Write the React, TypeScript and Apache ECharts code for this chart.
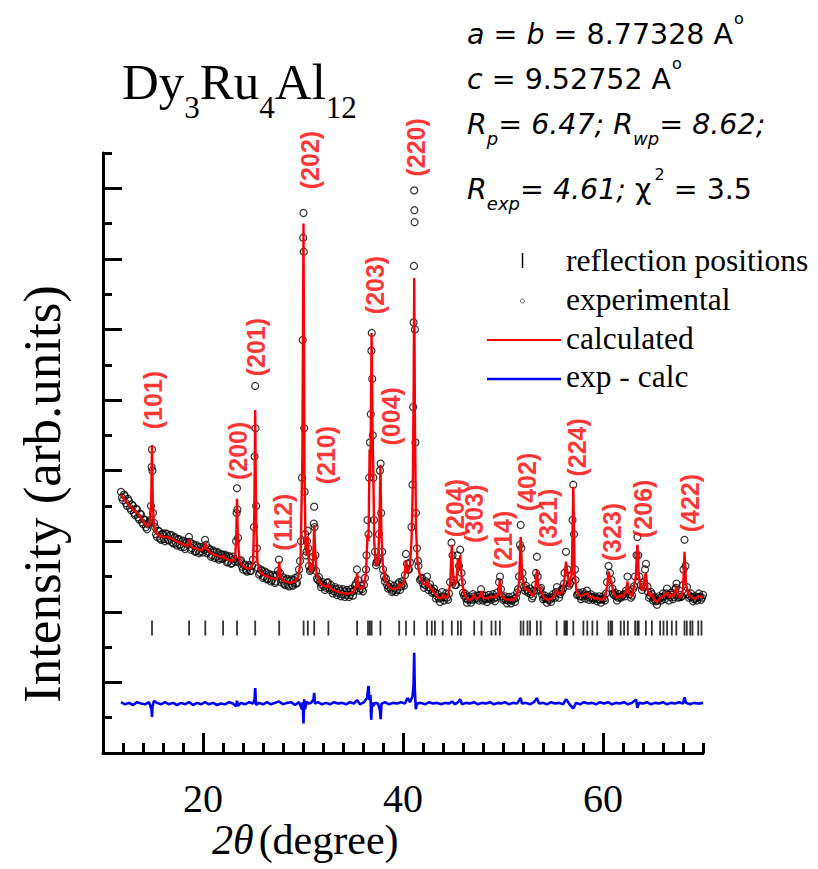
import React, { useEffect, useRef } from "react";
import * as echarts from "echarts";

// ---------- data (2theta in degrees, intensity in arbitrary units) ----------
const calcData: [number, number][] = [
  [11.8, 3.66], [12.2, 3.58], [12.6, 3.51], [13.0, 3.45], [13.4, 3.4], [13.8, 3.33], [14.2, 3.25], [14.5, 3.21],
  [14.7, 3.25], [14.82, 3.55], [14.9, 4.36], [14.98, 3.55], [15.1, 3.2], [15.3, 3.12], [15.6, 3.08], [16.0, 3.06],
  [16.4, 3.06], [16.8, 3.04], [17.2, 3.01], [17.6, 2.98], [18.0, 2.96], [18.4, 2.93], [18.55, 2.98], [18.61, 3.02],
  [18.7, 2.95], [19.0, 2.91], [19.4, 2.89], [19.8, 2.87], [20.1, 2.9], [20.23, 2.98], [20.35, 2.9], [20.7, 2.84],
  [21.1, 2.81], [21.5, 2.79], [21.9, 2.77], [22.01, 2.8], [22.15, 2.76], [22.5, 2.74], [22.9, 2.72], [23.2, 2.75],
  [23.32, 3.05], [23.4, 3.6], [23.48, 3.05], [23.65, 2.72], [23.9, 2.66], [24.3, 2.62], [24.7, 2.61], [25.0, 2.68],
  [25.13, 3.4], [25.22, 4.86], [25.31, 3.3], [25.45, 2.7], [25.7, 2.56], [26.1, 2.52], [26.5, 2.5], [26.9, 2.47],
  [27.3, 2.46], [27.52, 2.52], [27.62, 2.71], [27.72, 2.52], [28.0, 2.44], [28.4, 2.42], [28.8, 2.41], [29.2, 2.43],
  [29.5, 2.48], [29.75, 2.7], [29.94, 4.2], [30.05, 7.5], [30.15, 4.0], [30.25, 2.95], [30.38, 2.8], [30.47, 3.06],
  [30.56, 2.75], [30.75, 2.55], [30.95, 2.6], [31.05, 2.9], [31.12, 3.23], [31.2, 2.9], [31.35, 2.55], [31.6, 2.44],
  [31.9, 2.38], [32.3, 2.35], [32.45, 2.37], [32.54, 2.4], [32.65, 2.35], [33.0, 2.31], [33.4, 2.29], [33.8, 2.27],
  [34.2, 2.26], [34.6, 2.26], [35.0, 2.28], [35.3, 2.36], [35.41, 2.55], [35.52, 2.36], [35.8, 2.32], [36.1, 2.36],
  [36.3, 2.55], [36.45, 3.1], [36.55, 3.0], [36.66, 4.3], [36.74, 3.9], [36.86, 5.95], [36.96, 4.5], [37.03, 4.05],
  [37.12, 3.0], [37.3, 2.65], [37.5, 2.7], [37.64, 3.2], [37.74, 4.08], [37.84, 3.1], [38.0, 2.62], [38.3, 2.42],
  [38.7, 2.34], [39.1, 2.32], [39.5, 2.34], [39.62, 2.4], [39.75, 2.35], [40.1, 2.42], [40.3, 2.73], [40.45, 2.55],
  [40.7, 2.65], [40.85, 3.0], [40.98, 3.8], [41.06, 5.0], [41.12, 6.73], [41.2, 4.6], [41.3, 3.2], [41.45, 2.7],
  [41.7, 2.5], [42.0, 2.4], [42.3, 2.38], [42.4, 2.45], [42.5, 2.36], [42.88, 2.32], [43.19, 2.26], [43.5, 2.2],
  [43.8, 2.19], [43.97, 2.25], [44.15, 2.2], [44.5, 2.22], [44.72, 2.4], [44.88, 2.95], [45.0, 2.55], [45.15, 2.36],
  [45.35, 2.45], [45.49, 2.75], [45.62, 2.6], [45.72, 2.8], [45.85, 2.5], [46.1, 2.25], [46.5, 2.17], [46.9, 2.18],
  [47.12, 2.25], [47.3, 2.18], [47.7, 2.22], [47.85, 2.29], [48.0, 2.2], [48.4, 2.19], [48.85, 2.22], [49.2, 2.2],
  [49.5, 2.25], [49.69, 2.45], [49.85, 2.24], [50.2, 2.18], [50.6, 2.17], [51.0, 2.17], [51.4, 2.22], [51.62, 2.45],
  [51.77, 3.06], [51.9, 2.55], [52.04, 2.42], [52.2, 2.32], [52.45, 2.32], [52.71, 2.28], [53.0, 2.22], [53.25, 2.35],
  [53.39, 2.59], [53.52, 2.36], [53.77, 2.3], [54.1, 2.2], [54.5, 2.17], [54.9, 2.19], [55.2, 2.24], [55.37, 2.32],
  [55.55, 2.24], [55.9, 2.28], [56.14, 2.45], [56.3, 2.71], [56.45, 2.55], [56.65, 2.35], [56.88, 2.55], [57.03, 3.77],
  [57.16, 2.55], [57.35, 2.3], [57.7, 2.22], [58.04, 2.24], [58.43, 2.26], [58.7, 2.2], [58.94, 2.22], [59.2, 2.18],
  [59.42, 2.2], [59.8, 2.17], [60.2, 2.2], [60.45, 2.4], [60.55, 2.57], [60.7, 2.48], [60.85, 2.42], [61.1, 2.24],
  [61.5, 2.2], [61.77, 2.24], [62.0, 2.2], [62.11, 2.25], [62.3, 2.28], [62.45, 2.43], [62.6, 2.27], [62.9, 2.22],
  [63.15, 2.4], [63.28, 2.5], [63.44, 2.95], [63.56, 2.55], [63.75, 2.35], [64.0, 2.3], [64.2, 2.5], [64.29, 2.55],
  [64.45, 2.32], [64.7, 2.22], [64.89, 2.26], [65.1, 2.18], [65.4, 2.14], [65.71, 2.2], [66.05, 2.22], [66.41, 2.28],
  [66.6, 2.2], [66.88, 2.24], [67.1, 2.22], [67.33, 2.36], [67.55, 2.22], [67.8, 2.2], [68.0, 2.32], [68.15, 2.85],
  [68.3, 2.4], [68.5, 2.26], [68.73, 2.22], [68.95, 2.2], [69.2, 2.18], [69.53, 2.22], [69.85, 2.21], [70.0, 2.2],
];

const expData: [number, number][] = [
  [11.8, 3.7], [12.0, 3.58], [12.2, 3.64], [12.4, 3.5], [12.6, 3.57], [12.8, 3.44], [13.0, 3.5], [13.2, 3.37],
  [13.4, 3.45], [13.6, 3.31], [13.8, 3.38], [14.0, 3.24], [14.2, 3.3], [14.4, 3.17], [14.6, 3.27], [14.8, 3.5],
  [14.86, 4.05], [14.9, 4.3], [14.94, 4.0], [15.0, 3.4], [15.2, 3.2], [15.4, 3.06], [15.6, 3.14], [15.8, 3.02],
  [16.0, 3.11], [16.2, 3.0], [16.4, 3.1], [16.6, 3.01], [16.8, 3.09], [17.0, 2.97], [17.2, 3.06], [17.4, 2.94],
  [17.6, 3.03], [17.8, 2.92], [18.0, 3.01], [18.2, 2.89], [18.4, 2.99], [18.6, 3.06], [18.8, 2.88], [19.0, 2.96],
  [19.2, 2.85], [19.4, 2.94], [19.6, 2.83], [19.8, 2.92], [20.0, 2.84], [20.2, 3.02], [20.4, 2.83], [20.6, 2.9],
  [20.8, 2.78], [21.0, 2.87], [21.2, 2.76], [21.4, 2.85], [21.6, 2.74], [21.8, 2.82], [22.0, 2.75], [22.2, 2.81],
  [22.4, 2.7], [22.6, 2.79], [22.8, 2.68], [23.0, 2.78], [23.2, 2.71], [23.3, 3.0], [23.36, 3.4], [23.4, 3.75],
  [23.44, 3.45], [23.5, 3.05], [23.6, 2.7], [23.8, 2.73], [24.0, 2.6], [24.2, 2.67], [24.4, 2.57], [24.6, 2.66],
  [24.8, 2.58], [25.0, 2.74], [25.1, 3.2], [25.16, 4.2], [25.22, 5.2], [25.26, 4.6], [25.32, 3.5], [25.4, 2.9],
  [25.6, 2.53], [25.8, 2.6], [26.0, 2.48], [26.2, 2.57], [26.4, 2.46], [26.6, 2.54], [26.8, 2.43], [27.0, 2.52],
  [27.2, 2.41], [27.4, 2.52], [27.6, 2.74], [27.8, 2.42], [28.0, 2.49], [28.2, 2.38], [28.4, 2.47], [28.6, 2.36],
  [28.8, 2.46], [29.0, 2.37], [29.2, 2.48], [29.4, 2.41], [29.6, 2.6], [29.8, 3.0], [29.9, 3.9], [29.97, 5.85],
  [30.02, 7.3], [30.05, 7.65], [30.08, 7.1], [30.12, 4.6], [30.17, 3.7], [30.22, 3.1], [30.3, 2.8], [30.4, 3.0],
  [30.47, 3.15], [30.52, 2.9], [30.6, 2.65], [30.8, 2.6], [31.0, 2.78], [31.08, 3.25], [31.12, 3.49], [31.16, 3.2],
  [31.25, 2.8], [31.4, 2.47], [31.6, 2.49], [31.8, 2.35], [32.0, 2.42], [32.2, 2.31], [32.4, 2.41], [32.6, 2.34],
  [32.8, 2.38], [33.0, 2.26], [33.2, 2.35], [33.4, 2.24], [33.6, 2.33], [33.8, 2.22], [34.0, 2.32], [34.2, 2.21],
  [34.4, 2.31], [34.6, 2.21], [34.8, 2.32], [35.0, 2.23], [35.2, 2.37], [35.4, 2.6], [35.6, 2.3], [35.8, 2.37],
  [36.0, 2.29], [36.2, 2.48], [36.35, 2.8], [36.45, 3.3], [36.55, 3.1], [36.62, 3.9], [36.7, 4.4], [36.78, 4.8],
  [36.84, 5.7], [36.88, 5.95], [36.92, 5.3], [36.98, 4.5], [37.04, 3.9], [37.1, 3.3], [37.2, 2.85], [37.35, 2.7],
  [37.5, 2.75], [37.6, 3.1], [37.7, 4.0], [37.76, 4.1], [37.82, 3.4], [37.92, 2.85], [38.1, 2.5], [38.3, 2.47],
  [38.5, 2.33], [38.7, 2.39], [38.9, 2.28], [39.1, 2.37], [39.3, 2.28], [39.5, 2.39], [39.7, 2.31], [39.9, 2.43],
  [40.1, 2.37], [40.3, 2.82], [40.5, 2.6], [40.7, 2.7], [40.85, 3.2], [40.95, 3.8], [41.02, 4.9], [41.06, 6.1],
  [41.09, 6.9], [41.12, 7.97], [41.14, 7.69], [41.16, 7.52], [41.19, 6.0], [41.24, 4.4], [41.3, 3.4], [41.4, 2.9],
  [41.55, 2.65], [41.7, 2.45], [41.9, 2.48], [42.1, 2.34], [42.3, 2.43], [42.4, 2.5], [42.55, 2.31], [42.7, 2.39],
  [42.9, 2.27], [43.1, 2.33], [43.3, 2.19], [43.5, 2.25], [43.7, 2.14], [43.9, 2.28], [44.1, 2.16], [44.3, 2.26],
  [44.5, 2.17], [44.7, 2.42], [44.85, 2.98], [44.95, 2.8], [45.1, 2.45], [45.3, 2.38], [45.45, 2.8], [45.6, 2.65],
  [45.72, 2.88], [45.85, 2.55], [46.0, 2.27], [46.2, 2.26], [46.4, 2.13], [46.6, 2.22], [46.8, 2.13], [47.0, 2.25],
  [47.2, 2.18], [47.4, 2.23], [47.6, 2.16], [47.8, 2.32], [48.0, 2.16], [48.2, 2.23], [48.4, 2.14], [48.6, 2.24],
  [48.8, 2.17], [49.0, 2.25], [49.2, 2.15], [49.4, 2.27], [49.6, 2.42], [49.7, 2.5], [49.8, 2.32], [50.0, 2.17],
  [50.2, 2.22], [50.4, 2.12], [50.6, 2.21], [50.8, 2.12], [51.0, 2.22], [51.2, 2.14], [51.4, 2.27], [51.6, 2.5],
  [51.7, 2.95], [51.77, 3.23], [51.84, 2.9], [51.95, 2.55], [52.1, 2.35], [52.3, 2.37], [52.5, 2.27], [52.7, 2.33],
  [52.9, 2.19], [53.1, 2.3], [53.3, 2.55], [53.39, 2.78], [53.48, 2.5], [53.6, 2.3], [53.8, 2.34], [54.0, 2.18],
  [54.2, 2.23], [54.4, 2.13], [54.6, 2.21], [54.8, 2.14], [55.0, 2.25], [55.2, 2.2], [55.4, 2.35], [55.6, 2.2],
  [55.8, 2.31], [56.0, 2.33], [56.15, 2.55], [56.3, 2.85], [56.45, 2.6], [56.6, 2.37], [56.8, 2.5], [56.95, 3.3],
  [57.03, 3.8], [57.1, 3.1], [57.25, 2.45], [57.4, 2.24], [57.6, 2.27], [57.8, 2.18], [58.0, 2.28], [58.2, 2.19],
  [58.4, 2.3], [58.6, 2.17], [58.8, 2.25], [59.0, 2.17], [59.2, 2.22], [59.4, 2.15], [59.6, 2.22], [59.8, 2.13],
  [60.0, 2.22], [60.2, 2.16], [60.4, 2.42], [60.55, 2.65], [60.7, 2.55], [60.85, 2.45], [61.0, 2.26], [61.2, 2.27],
  [61.4, 2.16], [61.6, 2.25], [61.8, 2.2], [62.0, 2.24], [62.2, 2.22], [62.45, 2.5], [62.6, 2.3], [62.8, 2.2],
  [63.0, 2.32], [63.2, 2.5], [63.35, 2.8], [63.44, 3.06], [63.52, 2.8], [63.65, 2.5], [63.8, 2.38], [64.0, 2.35],
  [64.2, 2.6], [64.3, 2.68], [64.45, 2.36], [64.6, 2.2], [64.8, 2.28], [65.0, 2.16], [65.2, 2.2], [65.4, 2.1],
  [65.6, 2.22], [65.8, 2.16], [66.0, 2.26], [66.2, 2.18], [66.4, 2.33], [66.6, 2.16], [66.8, 2.27], [67.0, 2.18],
  [67.2, 2.32], [67.35, 2.4], [67.5, 2.2], [67.7, 2.24], [67.9, 2.22], [68.05, 2.6], [68.15, 3.02], [68.25, 2.65],
  [68.4, 2.35], [68.6, 2.2], [68.8, 2.26], [69.0, 2.15], [69.2, 2.22], [69.4, 2.16], [69.6, 2.26], [69.8, 2.17],
  [70.0, 2.24],
  // intermediate readings between the points above
  [11.9, 3.62], [12.1, 3.66], [12.3, 3.54], [12.5, 3.6], [12.7, 3.47], [12.9, 3.52], [13.1, 3.4], [13.3, 3.46],
  [13.5, 3.34], [13.7, 3.39], [13.9, 3.27], [14.1, 3.31], [14.3, 3.2], [14.5, 3.24], [14.7, 3.3], [15.1, 3.26],
  [15.3, 3.1], [15.5, 3.15], [15.7, 3.04], [15.9, 3.1], [16.1, 3.03], [16.3, 3.11], [16.5, 3.02], [16.7, 3.08],
  [16.9, 2.99], [17.1, 3.05], [17.3, 2.97], [17.5, 3.03], [17.7, 2.95], [17.9, 3.0], [18.1, 2.92], [18.3, 2.98],
  [18.5, 2.95], [18.7, 2.99], [18.9, 2.9], [19.1, 2.94], [19.3, 2.86], [19.5, 2.92], [19.7, 2.85], [19.9, 2.9],
  [20.1, 2.88], [20.3, 2.95], [20.5, 2.85], [20.7, 2.88], [20.9, 2.8], [21.1, 2.85], [21.3, 2.78], [21.5, 2.83],
  [21.7, 2.76], [21.9, 2.81], [22.1, 2.77], [22.3, 2.79], [22.5, 2.71], [22.7, 2.77], [22.9, 2.69], [23.1, 2.75],
  [23.7, 2.72], [23.9, 2.64], [24.1, 2.66], [24.3, 2.59], [24.5, 2.64], [24.7, 2.58], [24.9, 2.65], [25.5, 2.62],
  [25.7, 2.55], [25.9, 2.58], [26.1, 2.5], [26.3, 2.55], [26.5, 2.47], [26.7, 2.52], [26.9, 2.45], [27.1, 2.5],
  [27.3, 2.43], [27.5, 2.58], [27.7, 2.55], [27.9, 2.46], [28.1, 2.4], [28.3, 2.45], [28.5, 2.38], [28.7, 2.44],
  [28.9, 2.38], [29.1, 2.45], [29.3, 2.4], [29.5, 2.5], [29.7, 2.72], [30.35, 2.85], [30.7, 2.58], [30.9, 2.62],
  [31.3, 2.58], [31.5, 2.45], [31.7, 2.42], [31.9, 2.38], [32.1, 2.37], [32.3, 2.34], [32.5, 2.42], [32.7, 2.31],
  [32.9, 2.33], [33.1, 2.29], [33.3, 2.32], [33.5, 2.27], [33.7, 2.3], [33.9, 2.25], [34.1, 2.29], [34.3, 2.24],
  [34.5, 2.28], [34.7, 2.24], [34.9, 2.28], [35.1, 2.3], [35.3, 2.4], [35.5, 2.45], [35.7, 2.33], [35.9, 2.32],
  [36.1, 2.38], [36.3, 2.6], [37.3, 2.66], [37.45, 2.72], [38.0, 2.6], [38.2, 2.43], [38.4, 2.38], [38.6, 2.35],
  [38.8, 2.33], [39.0, 2.3], [39.2, 2.33], [39.4, 2.31], [39.6, 2.42], [39.8, 2.36], [40.0, 2.4], [40.2, 2.52],
  [40.4, 2.68], [40.6, 2.6], [41.5, 2.72], [41.8, 2.47], [42.0, 2.4], [42.2, 2.38], [42.6, 2.35], [42.8, 2.33],
  [43.0, 2.29], [43.2, 2.27], [43.4, 2.22], [43.6, 2.19], [43.8, 2.2], [44.0, 2.22], [44.2, 2.21], [44.4, 2.2],
  [44.6, 2.26], [45.2, 2.38], [45.9, 2.42], [46.1, 2.23], [46.3, 2.19], [46.5, 2.17], [46.7, 2.18], [46.9, 2.17],
  [47.1, 2.22], [47.3, 2.2], [47.5, 2.19], [47.7, 2.24], [47.9, 2.24], [48.1, 2.19], [48.3, 2.18], [48.5, 2.19],
  [48.7, 2.2], [48.9, 2.21], [49.1, 2.19], [49.3, 2.21], [49.9, 2.22], [50.1, 2.19], [50.3, 2.17], [50.5, 2.16],
  [50.7, 2.17], [50.9, 2.16], [51.1, 2.18], [51.3, 2.2], [51.5, 2.32], [52.0, 2.45], [52.2, 2.3], [52.4, 2.31],
  [52.6, 2.29], [52.8, 2.25], [53.0, 2.22], [53.2, 2.38], [53.7, 2.32], [53.9, 2.25], [54.1, 2.2], [54.3, 2.19],
  [54.5, 2.17], [54.7, 2.17], [54.9, 2.2], [55.1, 2.22], [55.3, 2.28], [55.5, 2.27], [55.7, 2.25], [55.9, 2.29],
  [56.1, 2.4], [56.7, 2.4], [57.2, 2.6], [57.5, 2.25], [57.7, 2.22], [57.9, 2.22], [58.1, 2.25], [58.3, 2.23],
  [58.5, 2.24], [58.7, 2.2], [58.9, 2.21], [59.1, 2.19], [59.3, 2.2], [59.5, 2.18], [59.7, 2.17], [59.9, 2.18],
  [60.1, 2.19], [60.3, 2.26], [60.95, 2.33], [61.1, 2.24], [61.3, 2.22], [61.5, 2.2], [61.7, 2.21], [61.9, 2.22],
  [62.1, 2.25], [62.3, 2.3], [62.7, 2.25], [62.9, 2.23], [63.1, 2.36], [63.9, 2.31], [64.1, 2.42], [64.5, 2.28],
  [64.7, 2.23], [64.9, 2.25], [65.1, 2.18], [65.3, 2.15], [65.5, 2.16], [65.7, 2.2], [65.9, 2.21], [66.1, 2.22],
  [66.3, 2.26], [66.5, 2.24], [66.7, 2.21], [66.9, 2.24], [67.1, 2.21], [67.3, 2.34], [67.6, 2.21], [67.8, 2.21],
  [68.0, 2.38], [68.5, 2.25], [68.7, 2.22], [68.9, 2.21], [69.1, 2.18], [69.3, 2.19], [69.5, 2.21], [69.7, 2.21],
  [69.9, 2.2],
];

const diffData: [number, number][] = [
  [11.8, 0.72], [12.2, 0.69], [12.6, 0.71], [13.0, 0.68], [13.4, 0.72], [13.8, 0.7], [14.2, 0.69], [14.6, 0.72],
  [14.85, 0.62], [14.9, 0.51], [14.95, 0.66], [15.1, 0.74], [15.4, 0.71], [15.8, 0.69], [16.2, 0.72], [16.6, 0.69],
  [17.0, 0.71], [17.4, 0.68], [17.8, 0.71], [18.2, 0.69], [18.6, 0.72], [19.0, 0.68], [19.4, 0.71], [19.8, 0.69],
  [20.2, 0.72], [20.6, 0.69], [21.0, 0.71], [21.4, 0.68], [21.8, 0.7], [22.2, 0.69], [22.6, 0.72], [23.0, 0.7],
  [23.3, 0.66], [23.4, 0.74], [23.5, 0.67], [23.8, 0.71], [24.2, 0.69], [24.6, 0.72], [25.0, 0.7], [25.15, 0.75],
  [25.22, 0.92], [25.3, 0.68], [25.6, 0.71], [26.0, 0.69], [26.4, 0.72], [26.8, 0.69], [27.2, 0.71], [27.6, 0.73],
  [28.0, 0.69], [28.4, 0.71], [28.8, 0.72], [29.2, 0.68], [29.6, 0.72], [29.9, 0.62], [29.97, 0.72], [30.05, 0.42],
  [30.12, 0.76], [30.2, 0.62], [30.35, 0.73], [30.5, 0.7], [30.8, 0.71], [31.05, 0.76], [31.12, 0.85], [31.2, 0.7],
  [31.5, 0.72], [31.9, 0.69], [32.3, 0.71], [32.7, 0.69], [33.1, 0.72], [33.5, 0.7], [33.9, 0.71], [34.3, 0.69],
  [34.7, 0.72], [35.1, 0.7], [35.4, 0.75], [35.7, 0.69], [36.1, 0.72], [36.4, 0.78], [36.55, 0.95], [36.65, 0.75],
  [36.75, 0.82], [36.82, 0.47], [36.9, 0.72], [37.0, 0.66], [37.2, 0.71], [37.5, 0.7], [37.7, 0.6], [37.76, 0.48],
  [37.85, 0.7], [38.2, 0.72], [38.6, 0.69], [39.0, 0.71], [39.4, 0.7], [39.8, 0.72], [40.2, 0.7], [40.45, 0.78],
  [40.7, 0.72], [40.95, 0.8], [41.05, 0.95], [41.12, 1.42], [41.18, 0.9], [41.28, 0.62], [41.4, 0.7], [41.8, 0.71],
  [42.2, 0.69], [42.6, 0.72], [43.0, 0.7], [43.4, 0.71], [43.8, 0.69], [44.2, 0.71], [44.6, 0.7], [44.9, 0.73],
  [45.2, 0.69], [45.5, 0.72], [45.72, 0.76], [45.9, 0.69], [46.3, 0.71], [46.7, 0.7], [47.1, 0.72], [47.5, 0.69],
  [47.9, 0.71], [48.3, 0.7], [48.7, 0.72], [49.1, 0.69], [49.5, 0.71], [49.8, 0.7], [50.2, 0.72], [50.6, 0.69],
  [51.0, 0.71], [51.4, 0.7], [51.77, 0.78], [51.9, 0.7], [52.3, 0.71], [52.7, 0.69], [53.1, 0.72], [53.39, 0.78],
  [53.6, 0.7], [54.0, 0.71], [54.4, 0.69], [54.8, 0.72], [55.2, 0.7], [55.6, 0.71], [56.0, 0.69], [56.3, 0.76],
  [56.6, 0.7], [57.03, 0.63], [57.3, 0.71], [57.7, 0.69], [58.1, 0.72], [58.5, 0.7], [58.9, 0.71], [59.3, 0.69],
  [59.7, 0.72], [60.1, 0.7], [60.5, 0.72], [60.9, 0.69], [61.3, 0.71], [61.7, 0.7], [62.1, 0.72], [62.5, 0.69],
  [62.9, 0.71], [63.3, 0.76], [63.44, 0.64], [63.6, 0.71], [64.0, 0.7], [64.4, 0.72], [64.8, 0.69], [65.2, 0.71],
  [65.6, 0.7], [66.0, 0.72], [66.4, 0.69], [66.8, 0.71], [67.2, 0.7], [67.6, 0.72], [68.0, 0.7], [68.15, 0.79],
  [68.3, 0.71], [68.7, 0.69], [69.1, 0.71], [69.5, 0.7], [70.0, 0.71],
];

const reflectionPositions: number[] = [
  14.9, 18.61, 20.23, 22.01, 23.4, 25.22, 27.62, 30.06, 30.48, 31.12, 32.54, 35.41, 36.5, 36.69, 36.86, 37.74,
  39.62, 40.3, 41.12, 42.4, 42.88, 43.19, 43.97, 44.88, 45.49, 45.79, 47.12, 47.85, 48.85, 49.26, 49.69, 51.77,
  52.04, 52.45, 52.71, 53.39, 53.77, 55.37, 56.14, 56.27, 56.4, 57.03, 58.04, 58.43, 58.94, 59.42, 60.55, 60.78,
  60.92, 61.77, 62.11, 62.48, 63.21, 63.44, 63.57, 64.29, 64.89, 65.71, 66.05, 66.41, 66.88, 67.33, 68.15, 68.38,
  68.73, 68.95, 69.53, 69.85,
];
const reflectionLevel = 1.77;

const hklLabels: string[] = [
  "(101)", "(200)", "(201)", "(112)", "(202)", "(210)", "(203)", "(004)", "(220)",
  "(204)", "(303)", "(214)", "(402)", "(321)", "(224)", "(323)", "(206)", "(422)",
];
const hklX: number[] = [15.0, 23.5, 25.3, 28.0, 30.7, 32.3, 37.2, 38.8, 41.3, 45.2, 47.1, 50.0, 52.4, 54.5, 57.4, 60.9, 64.0, 68.7];
const hklY: number[] = [5.0, 4.28, 5.75, 3.27, 8.4, 4.22, 6.63, 4.77, 8.58, 3.47, 3.39, 3.02, 3.84, 3.33, 4.33, 3.13, 3.46, 3.54];

const xMajorTicks: number[] = [20, 40, 60];
const yMajorTicks: number[] = [0, 1, 2, 3, 4, 5, 6, 7, 8];

// ---------- text helpers ----------
let measureCtx: CanvasRenderingContext2D | null = null;
function measure(text: string, font: string): number {
  if (!measureCtx) measureCtx = document.createElement("canvas").getContext("2d");
  if (!measureCtx) return text.length * 10;
  measureCtx.font = font;
  return measureCtx.measureText(text).width;
}

type Seg = { t: string; size: number; italic?: boolean; dy?: number; sp?: number; dx?: number };
function textLine(x0: number, base: number, family: string, segs: Seg[]): any[] {
  const out: any[] = [];
  let x = x0;
  for (const s of segs) {
    const font = `${s.italic ? "italic " : ""}${s.size}px "${family}"`;
    if (s.sp) x += s.sp * measure(" ", font);
    if (s.dx) x += s.dx;
    out.push({
      type: "text",
      x,
      y: base + (s.dy || 0) - 0.3 * s.size,
      silent: true,
      style: {
        text: s.t,
        fontSize: s.size,
        fontFamily: family,
        fontStyle: s.italic ? "italic" : "normal",
        fill: "#000",
        align: "left",
        verticalAlign: "middle",
      },
    });
    x += measure(s.t, font);
  }
  return out;
}

export default function App() {
  const ref = useRef<HTMLDivElement>(null);
  useEffect(() => {
    if (!ref.current) return;
    const chart = echarts.init(ref.current, null, { renderer: "svg" });
    const serif = "Liberation Serif";
    const sans = "DejaVu Sans";
    const T = 28.5;
    const S = 18;

    const graphic: any[] = [
      // title
      ...textLine(122, 97, serif, [
        { t: "Dy", size: 51 },
        { t: "3", size: 31, dy: 20 },
        { t: "Ru", size: 51 },
        { t: "4", size: 31, dy: 20 },
        { t: "Al", size: 51 },
        { t: "12", size: 31, dy: 20 },
      ]),
      // lattice parameters and R factors
      ...textLine(467, 43, sans, [
        { t: "a", size: T, italic: true },
        { t: "=", size: T, sp: 1 },
        { t: "b", size: T, italic: true, sp: 1 },
        { t: "= 8.77328", size: T, sp: 1 },
        { t: "A", size: T, sp: 1 },
        { t: "o", size: 16, dy: -20, dx: 1 },
      ]),
      ...textLine(467, 88, sans, [
        { t: "c", size: T, italic: true },
        { t: "= 9.52752", size: T, sp: 1 },
        { t: "A", size: T, sp: 1 },
        { t: "o", size: 16, dy: -20, dx: 1 },
      ]),
      ...textLine(467, 133, sans, [
        { t: "R", size: T, italic: true },
        { t: "p", size: S, italic: true, dy: 11 },
        { t: "= 6.47;", size: T, italic: true },
        { t: "R", size: T, italic: true, sp: 1 },
        { t: "wp", size: S, italic: true, dy: 11 },
        { t: "= 8.62;", size: T, italic: true },
      ]),
      ...textLine(467, 198, sans, [
        { t: "R", size: T, italic: true },
        { t: "exp", size: S, italic: true, dy: 11 },
        { t: "= 4.61;", size: T, italic: true },
        { t: "χ", size: T, sp: 1 },
        { t: "2", size: 16, dy: -19, dx: 3 },
        { t: "= 3.5", size: T, sp: 1 },
      ]),
      // legend
      { type: "line", silent: true, shape: { x1: 522.5, y1: 253, x2: 522.5, y2: 268 }, style: { stroke: "#000", lineWidth: 1.5 } },
      { type: "circle", silent: true, shape: { cx: 522.5, cy: 301, r: 2 }, style: { fill: "none", stroke: "#333", lineWidth: 0.8 } },
      { type: "line", silent: true, shape: { x1: 487, y1: 340, x2: 561, y2: 340 }, style: { stroke: "#ff0000", lineWidth: 2 } },
      { type: "line", silent: true, shape: { x1: 487, y1: 379, x2: 561, y2: 379 }, style: { stroke: "#0000ff", lineWidth: 2.5 } },
      ...textLine(566, 270, serif, [{ t: "reflection positions", size: 31.5 }]),
      ...textLine(566, 309, serif, [{ t: "experimental", size: 31.5 }]),
      ...textLine(566, 348, serif, [{ t: "calculated", size: 31.5 }]),
      ...textLine(566, 386, serif, [{ t: "exp - calc", size: 31.5 }]),
      // axis titles
      {
        type: "text",
        x: 42,
        y: 494,
        rotation: Math.PI / 2,
        silent: true,
        style: {
          text: "Intensity (arb.units)",
          fontSize: 53,
          fontFamily: serif,
          fill: "#000",
          align: "center",
          verticalAlign: "middle",
        },
      },
      ...textLine(212, 853, serif, [
        { t: "2", size: 42, italic: true },
        { t: "θ", size: 42, italic: true },
        { t: "(degree)", size: 42, dx: 5 },
      ]),
    ];

    const option: any = {
      animation: false,
      backgroundColor: "#fff",
      grid: { left: 103, right: 115, top: 153, bottom: 116, containLabel: false },
      xAxis: [
        {
          type: "value",
          min: 10,
          max: 70,
          position: "bottom",
          axisLine: { show: true, onZero: false, lineStyle: { color: "#000", width: 3 } },
          axisTick: { show: true, inside: true, length: 20, customValues: xMajorTicks, lineStyle: { color: "#000", width: 3 } },
          axisLabel: { show: true, customValues: xMajorTicks, fontFamily: serif, fontSize: 40, color: "#000", margin: 25 },
          splitLine: { show: false },
        },
        {
          type: "value",
          min: 10,
          max: 70,
          interval: 2,
          position: "bottom",
          axisLine: { show: false, onZero: false },
          axisTick: { show: true, inside: true, length: 10, lineStyle: { color: "#000", width: 3 } },
          axisLabel: { show: false },
          splitLine: { show: false },
        },
      ],
      yAxis: [
        {
          type: "value",
          min: 0,
          max: 8.5,
          position: "left",
          axisLine: { show: true, onZero: false, lineStyle: { color: "#000", width: 3 } },
          axisTick: { show: true, inside: true, length: 19, customValues: yMajorTicks, lineStyle: { color: "#000", width: 3 } },
          axisLabel: { show: false },
          splitLine: { show: false },
        },
        {
          type: "value",
          min: 0,
          max: 8.5,
          interval: 0.5,
          position: "left",
          axisLine: { show: false, onZero: false },
          axisTick: { show: true, inside: true, length: 9, lineStyle: { color: "#000", width: 3 } },
          axisLabel: { show: false },
          splitLine: { show: false },
        },
      ],
      graphic,
      series: [
        {
          name: "experimental",
          type: "scatter",
          data: expData,
          symbol: "circle",
          symbolSize: 7,
          itemStyle: { color: "rgba(0,0,0,0)", borderColor: "#000", borderWidth: 1.2 },
          silent: true,
          z: 2,
        },
        {
          name: "calculated",
          type: "line",
          data: calcData,
          showSymbol: false,
          symbol: "none",
          lineStyle: { color: "#ff0000", width: 2.4 },
          silent: true,
          z: 3,
        },
        {
          name: "exp - calc",
          type: "line",
          data: diffData,
          showSymbol: false,
          symbol: "none",
          lineStyle: { color: "#0000ff", width: 2.6 },
          silent: true,
          z: 3,
        },
        {
          name: "reflection positions",
          type: "scatter",
          data: reflectionPositions.map((x) => [x, reflectionLevel]),
          symbol: "rect",
          symbolSize: [1.8, 15],
          itemStyle: { color: "#000" },
          silent: true,
          z: 3,
        },
        {
          name: "hkl",
          type: "scatter",
          data: hklLabels.map((t, i) => ({ value: [hklX[i], hklY[i]], name: t })),
          symbolSize: 0,
          clip: false,
          silent: true,
          z: 5,
          label: {
            show: true,
            position: "inside",
            rotate: 90,
            formatter: (p: any) => p.name,
            color: "#ff0000",
            fontFamily: "Liberation Sans",
            fontWeight: "bold",
            fontSize: 25,
          },
        },
      ],
    };
    chart.setOption(option);
    return () => chart.dispose();
  }, []);
  return <div ref={ref} style={{ position: "absolute", left: 0, top: 0, width: 818, height: 869, background: "#fff" }} />;
}
